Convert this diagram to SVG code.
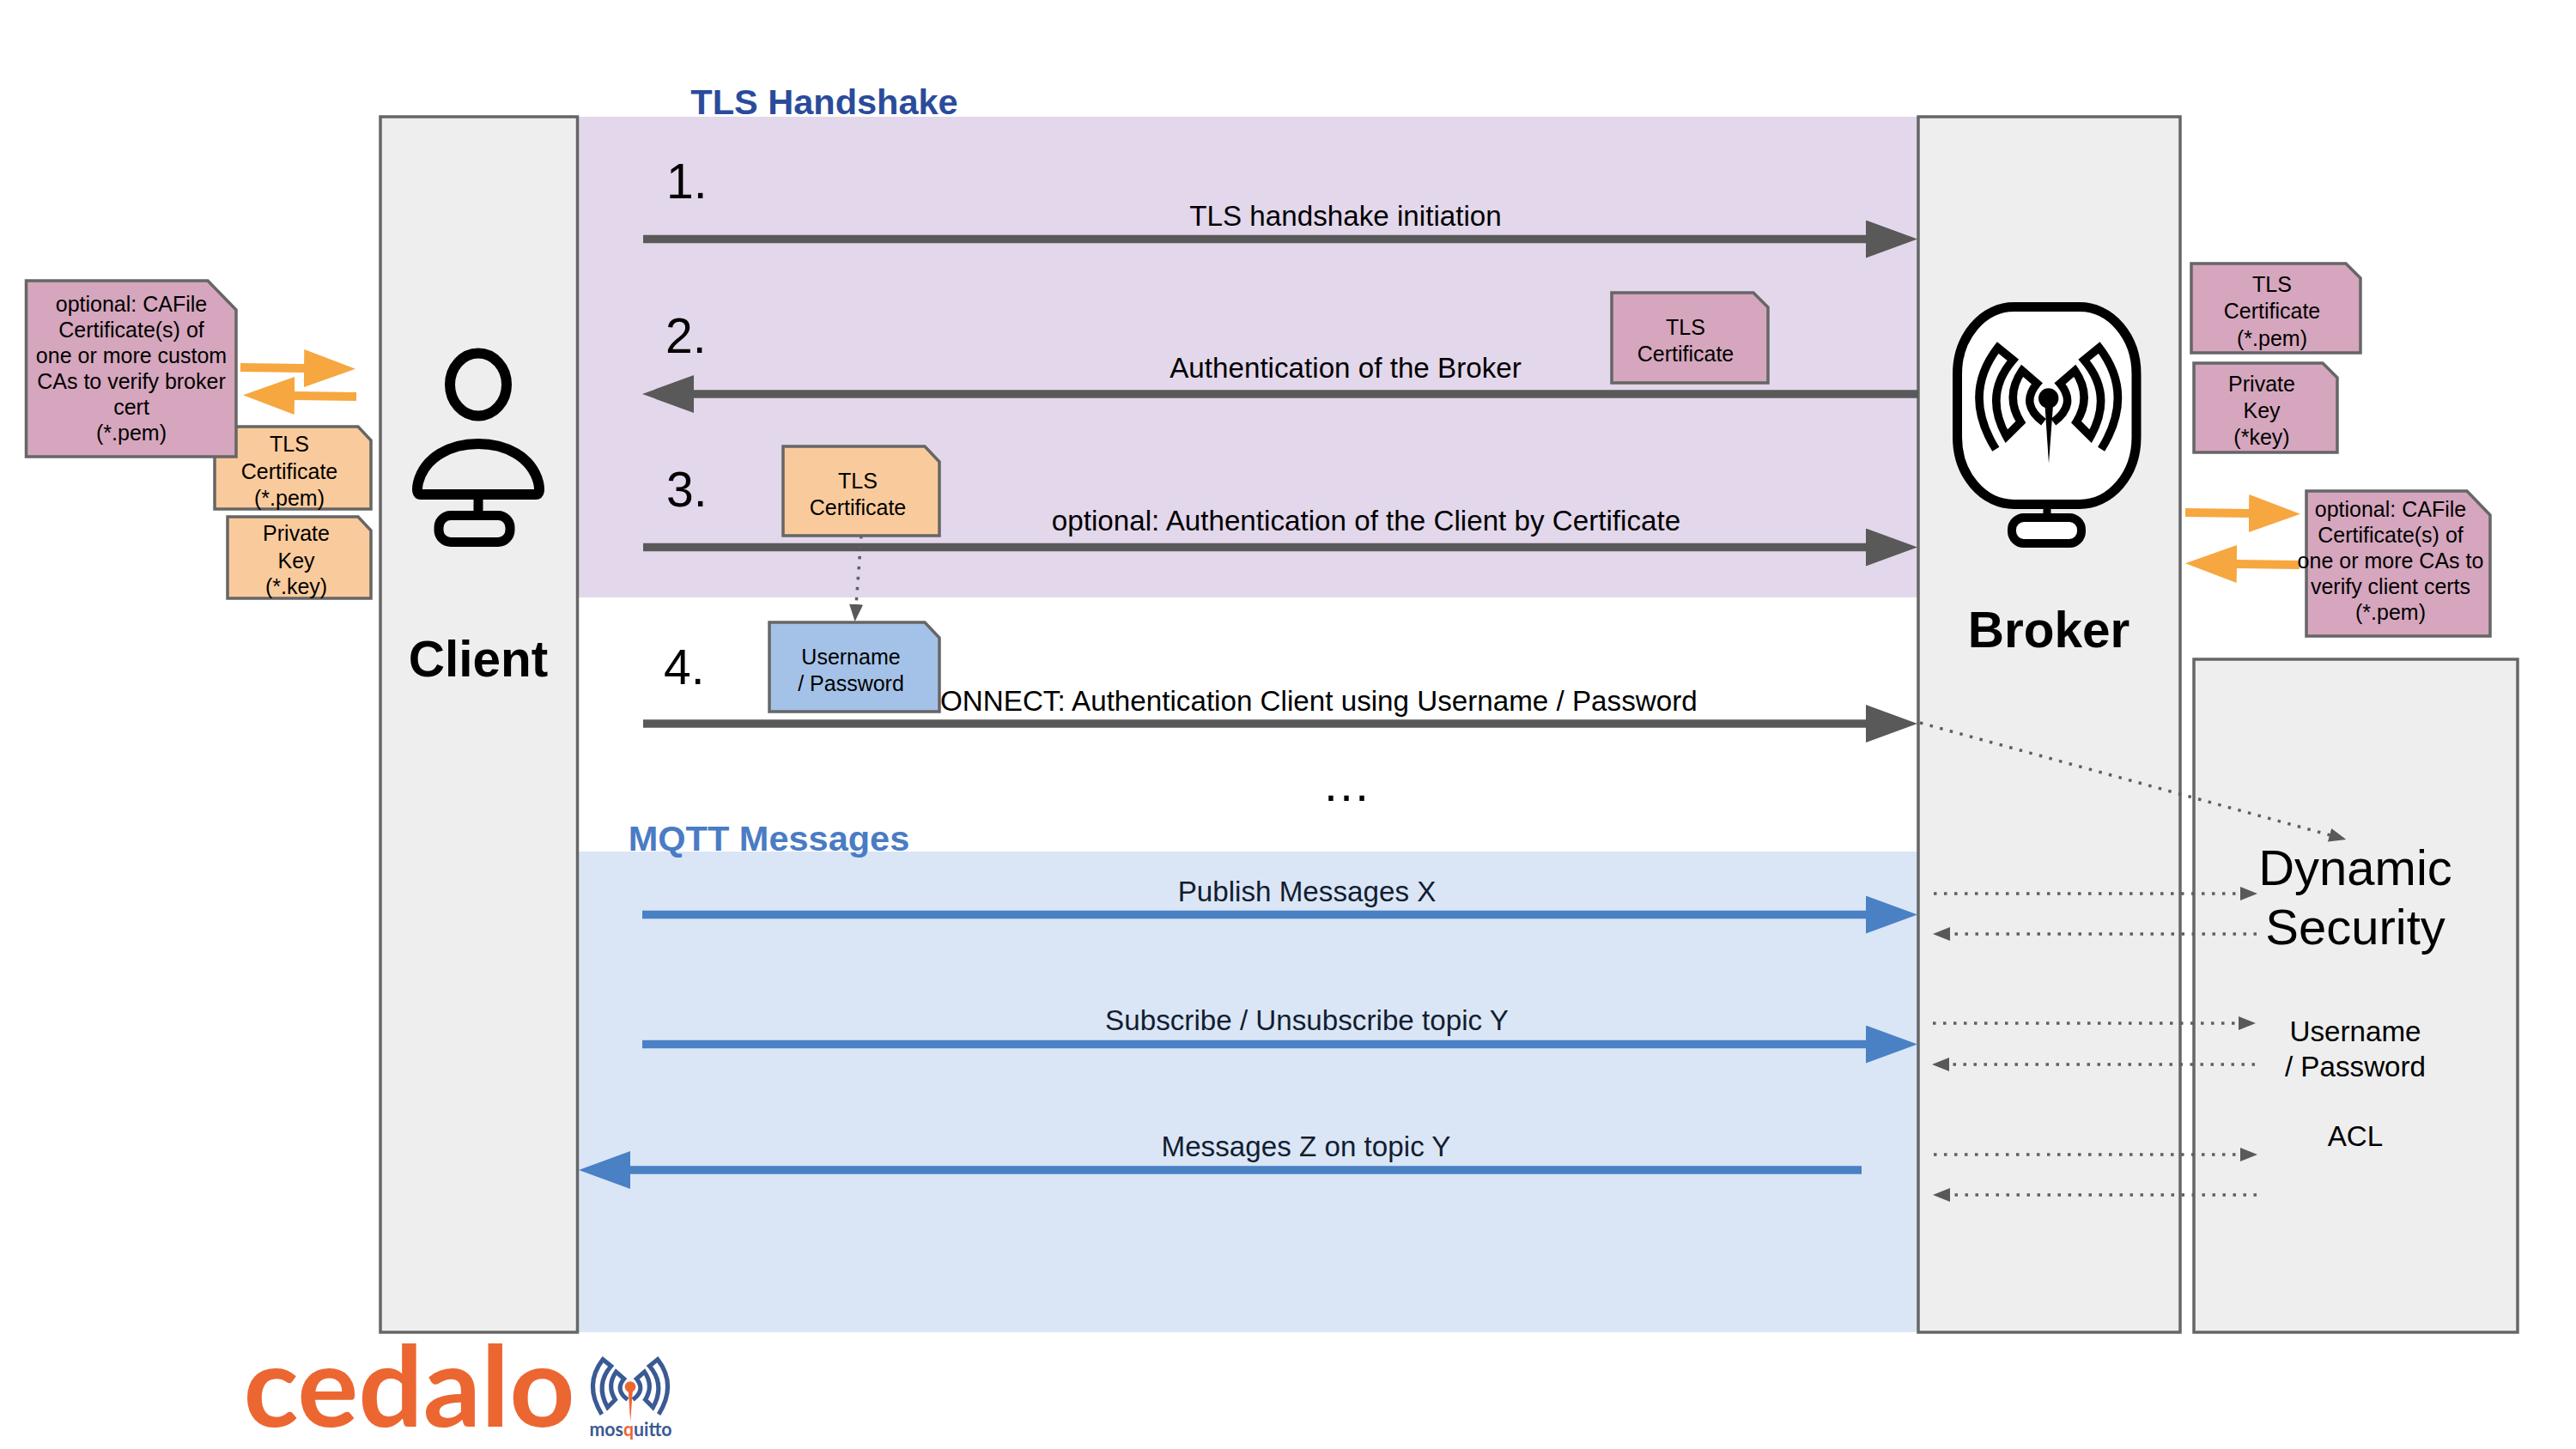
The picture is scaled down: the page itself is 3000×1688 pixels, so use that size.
<svg xmlns="http://www.w3.org/2000/svg" width="3000" height="1688" viewBox="0 0 3000 1688">
<style>
text{font-family:"Liberation Sans",Arial,sans-serif;fill:#000;text-anchor:middle}
.box{fill:#eee;stroke:#666;stroke-width:3.5}
.note{stroke:#666;stroke-width:3.5}
.pink{fill:#d5a6bd}.peach{fill:#f9cb9c}.sky{fill:#a4c2e8}
.n{font-size:25px}
.l{font-size:33.2px}
.m{fill:#131d30}
.num{font-size:57px;text-anchor:start}
.big{font-size:58.5px;font-weight:700}
.solid{fill:none;stroke:#595959;stroke-width:9.5}
.blue{fill:none;stroke:#4a80c4;stroke-width:9.5}
.or{fill:none;stroke:#f6a73f;stroke-width:10}
.dot{fill:none;stroke:#5f5f5f;stroke-width:3.5;stroke-dasharray:3.5 8.500}
</style>
<defs>
<marker id="hd" markerUnits="userSpaceOnUse" markerWidth="60" markerHeight="44" refX="1" refY="22" orient="auto"><path d="M0 0L60 22L0 44Z" fill="#595959"/></marker>
<marker id="hb" markerUnits="userSpaceOnUse" markerWidth="60" markerHeight="44" refX="1" refY="22" orient="auto"><path d="M0 0L60 22L0 44Z" fill="#4a80c4"/></marker>
<marker id="ho" markerUnits="userSpaceOnUse" markerWidth="60" markerHeight="44" refX="1" refY="22" orient="auto"><path d="M0 0L60 22L0 44Z" fill="#f6a73f"/></marker>
<marker id="hs" markerUnits="userSpaceOnUse" markerWidth="20" markerHeight="16" refX="1" refY="8" orient="auto"><path d="M0 0L20 8L0 16Z" fill="#595959"/></marker>
<g id="waves" fill="none" stroke-width="9.500">
<path d="M2324.300 523.300Q2284.500 459.400 2326.700 405L2344.300 419.300Q2309.500 459.600 2336.700 508.300L2353.300 491.700Q2334.400 461.700 2355 431.700L2372.300 446.700Q2352 471 2380 491.700"/>
<path d="M2447.100 523.300Q2486.900 459.400 2444.700 405L2427.100 419.300Q2461.900 459.600 2434.700 508.300L2418.100 491.700Q2437 461.700 2416.400 431.700L2399.100 446.700Q2419.400 471 2391.400 491.700"/>
</g>
<g id="antenna"><circle cx="2385.700" cy="464" r="11.700"/><path d="M2381.500 472H2391L2386 540Z"/></g>
</defs>
<rect width="3000" height="1688" fill="#fff"/>

<g id="bands">
<rect x="672" y="136" width="1562" height="560" fill="#e3d7eb"/>
<rect x="672" y="992" width="1562" height="560" fill="#dae6f6"/>
<text x="960" y="133" font-size="41.5" font-weight="700" style="fill:#2a4b9b">TLS Handshake</text>
<text x="895.500" y="991" font-size="41.5" font-weight="700" style="fill:#4a7cc4">MQTT Messages</text>
</g>

<g id="client">
<rect class="box" x="443" y="136" width="229.500" height="1416"/>
<ellipse cx="557" cy="448" rx="33" ry="36.500" fill="none" stroke="#000" stroke-width="12"/>
<path d="M490 576Q484 576 487 562C495 532 525 517 557 517C589 517 619 532 627 562Q630 576 624 576Z" fill="none" stroke="#000" stroke-width="12"/>
<path d="M557 582V596" stroke="#000" stroke-width="11"/>
<rect x="511" y="600.500" width="83" height="31" rx="14" fill="none" stroke="#000" stroke-width="11"/>
<text class="big" x="557" y="788">Client</text>
</g>

<g id="broker">
<rect class="box" x="2234" y="136" width="305" height="1416"/>
<rect x="2279.500" y="357.500" width="208.500" height="230" rx="66" ry="78" fill="#fff" stroke="#000" stroke-width="11"/>
<use href="#waves" stroke="#000"/>
<use href="#antenna" fill="#000"/>
<path d="M2384 590V600" stroke="#000" stroke-width="9"/>
<rect x="2343" y="603" width="81" height="30" rx="14" fill="#fff" stroke="#000" stroke-width="10"/>
<text class="big" x="2386" y="754">Broker</text>
</g>

<g id="dynamic-security">
<rect class="box" x="2555" y="768" width="377" height="784"/>
<text x="2743" y="1031" font-size="58">Dynamic</text>
<text x="2743" y="1100" font-size="58">Security</text>
<text class="l" x="2743" y="1213">Username</text>
<text class="l" x="2743" y="1254">/ Password</text>
<text class="l" x="2743" y="1335">ACL</text>
</g>

<g id="connectors">
<path class="solid" d="M749 278.500H2174" marker-end="url(#hd)"/>
<path class="solid" d="M2234 459H807" marker-end="url(#hd)"/>
<path class="solid" d="M749 637.500H2174" marker-end="url(#hd)"/>
<path class="solid" d="M749 843H2174" marker-end="url(#hd)"/>
<path class="blue" d="M748 1065.500H2174" marker-end="url(#hb)"/>
<path class="blue" d="M748 1216.500H2174" marker-end="url(#hb)"/>
<path class="blue" d="M2168 1363H733" marker-end="url(#hb)"/>
<path class="or" d="M280 428L355 429" marker-end="url(#ho)"/>
<path class="or" d="M415 462L342 461" marker-end="url(#ho)"/>
<path class="or" d="M2545 597L2620 598" marker-end="url(#ho)"/>
<path class="or" d="M2678 658L2604 657" marker-end="url(#ho)"/>
<path class="dot" d="M1003 624L997 705" marker-end="url(#hs)"/>
<path class="dot" d="M2236 842L2714 973" marker-end="url(#hs)"/>
<path class="dot" d="M2252 1041H2610" marker-end="url(#hs)"/>
<path class="dot" d="M2628 1088H2270" marker-end="url(#hs)"/>
<path class="dot" d="M2251 1192H2608" marker-end="url(#hs)"/>
<path class="dot" d="M2626 1240H2269" marker-end="url(#hs)"/>
<path class="dot" d="M2252 1345H2610" marker-end="url(#hs)"/>
<path class="dot" d="M2628 1392H2270" marker-end="url(#hs)"/>
</g>

<g id="labels">
<text class="num" x="776" y="231">1.</text>
<text class="num" x="775" y="411">2.</text>
<text class="num" x="776" y="590">3.</text>
<text class="num" x="773" y="797">4.</text>
<text class="l" x="1567" y="263">TLS handshake initiation</text>
<text class="l" x="1567" y="440">Authentication of the Broker</text>
<text class="l" x="1591" y="618">optional: Authentication of the Client by Certificate</text>
<text class="l" x="1095" y="828" style="text-anchor:start">ONNECT: Authentication Client using Username / Password</text>
<text x="1568" y="933" font-size="57">…</text>
<text class="l m" x="1522" y="1050">Publish Messages X</text>
<text class="l m" x="1522" y="1200">Subscribe / Unsubscribe topic Y</text>
<text class="l m" x="1521" y="1347">Messages Z on topic Y</text>
</g>

<g id="client-tls-cert">
<path class="note peach" d="M250 497H417L432 513V593H250Z"/>
<text class="n" x="337" y="526">TLS</text><text class="n" x="337" y="558">Certificate</text><text class="n" x="337" y="589">(*.pem)</text>
</g>
<g id="client-private-key">
<path class="note peach" d="M265 602H417L432 618V697H265Z"/>
<text class="n" x="345" y="630">Private</text><text class="n" x="345" y="662">Key</text><text class="n" x="345" y="692">(*.key)</text>
</g>
<g id="client-cafile">
<path class="note pink" d="M30.500 327H242L275 361V532H30.500Z"/>
<text class="n" x="153" y="363">optional: CAFile</text><text class="n" x="153" y="393">Certificate(s) of</text><text class="n" x="153" y="423">one or more custom</text><text class="n" x="153" y="453">CAs to verify broker</text><text class="n" x="153" y="483">cert</text><text class="n" x="153" y="513">(*.pem)</text>
</g>
<g id="broker-tls-note">
<path class="note pink" d="M1877 341H2042L2059 358V446H1877Z"/>
<text class="n" x="1963" y="390">TLS</text><text class="n" x="1963" y="421">Certificate</text>
</g>
<g id="client-tls-note">
<path class="note peach" d="M912 520H1077L1094 538V624H912Z"/>
<text class="n" x="999" y="569">TLS</text><text class="n" x="999" y="600">Certificate</text>
</g>
<g id="user-pass-note">
<path class="note sky" d="M896 725H1077L1094 743V829H896Z"/>
<text class="n" x="991" y="774">Username</text><text class="n" x="991" y="805">/ Password</text>
</g>
<g id="broker-tls-cert">
<path class="note pink" d="M2552 307H2732L2749 324V411H2552Z"/>
<text class="n" x="2646" y="340">TLS</text><text class="n" x="2646" y="371">Certificate</text><text class="n" x="2646" y="403">(*.pem)</text>
</g>
<g id="broker-private-key">
<path class="note pink" d="M2555 423H2705L2722 440V527H2555Z"/>
<text class="n" x="2634" y="456">Private</text><text class="n" x="2634" y="487">Key</text><text class="n" x="2634" y="518">(*key)</text>
</g>
<g id="broker-cafile">
<path class="note pink" d="M2686 572H2873L2900 600V741H2686Z"/>
<text class="n" x="2784" y="602">optional: CAFile</text><text class="n" x="2784" y="632">Certificate(s) of</text><text class="n" x="2784" y="662">one or more CAs to</text><text class="n" x="2784" y="692">verify client certs</text><text class="n" x="2784" y="722">(*.pem)</text>
</g>

<g id="logo">
<text x="476.500" y="1662" font-size="130" font-weight="700" textLength="386" lengthAdjust="spacingAndGlyphs" style="font-family:Lato,'Liberation Sans',sans-serif;fill:#ec6632">cedalo</text>
<g transform="translate(734 1615) scale(.54) translate(-2385.700 -463)">
<use href="#waves" stroke="#3a5a94"/>
<use href="#antenna" fill="#ec6632"/>
</g>
<text x="734.500" y="1673" font-size="23" font-weight="700" textLength="96" lengthAdjust="spacingAndGlyphs" style="font-family:Lato,'Liberation Sans',sans-serif;fill:#3a5a94">mos<tspan style="fill:#ec6632">q</tspan>uitto</text>
</g>
</svg>
